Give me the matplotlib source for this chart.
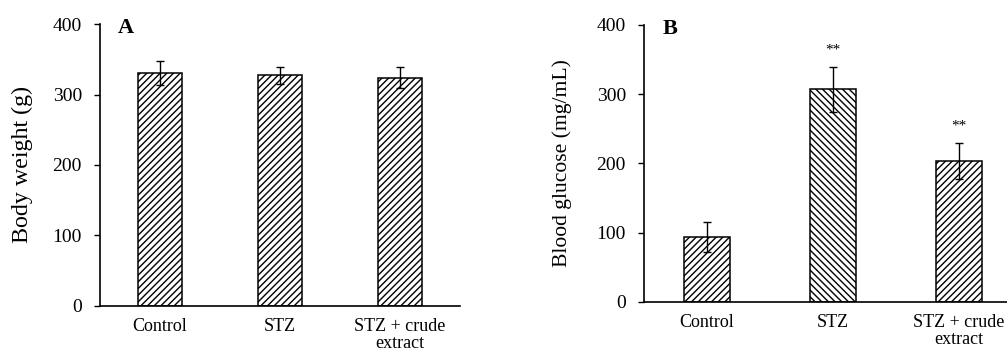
import numpy as np
import matplotlib
matplotlib.use('Agg')
import matplotlib.pyplot as plt

plt.rcParams['font.family'] = ['Liberation Serif', 'DejaVu Serif']
plt.rcParams['hatch.linewidth'] = 1.0

groups = ['Control', 'STZ', 'STZ + crude\nextract']

weight = [331, 327, 324]
weight_err = [17, 12, 15]

glucose = [94, 307, 203]
glucose_err = [22, 32, 26]
glucose_marks = ['', '**', '**']

hatches_a = ['/////', '/////', '/////']
hatches_b = ['/////', '\\\\\\\\\\', '/////']

fig = plt.figure(figsize=(10.07, 3.54), dpi=100)
ax_a = fig.add_axes([0.0993, 0.1356, 0.3575, 0.7966])
ax_b = fig.add_axes([0.6395, 0.1469, 0.3754, 0.7825])


def draw_panel(ax, vals, errs, hatches, ylabel, ysize, letter, label_x):
    x = np.arange(len(vals))
    for xi, v, h in zip(x, vals, hatches):
        ax.bar(xi, v, width=0.36, color='white', edgecolor='black',
               linewidth=1.1, hatch=h, zorder=2)
    ax.errorbar(x, vals, yerr=errs, fmt='none', ecolor='black',
                elinewidth=1.0, capsize=3, capthick=1.0, zorder=3)
    ax.set_xlim(-0.5, len(vals) - 0.5)
    ax.set_ylim(0, 400)
    ax.set_yticks([0, 100, 200, 300, 400])
    ax.set_xticks(x)
    ax.set_xticklabels(groups, fontsize=13, linespacing=1.0, va='top')
    ax.tick_params(axis='x', length=0, pad=9)
    ax.tick_params(axis='y', length=4, width=1, pad=9, labelsize=14)
    for s in ['top', 'right']:
        ax.spines[s].set_visible(False)
    ax.spines['left'].set_linewidth(1.2)
    ax.spines['bottom'].set_linewidth(1.2)
    ax.set_ylabel(ylabel, fontsize=ysize)
    ax.yaxis.set_label_coords(label_x, 0.5)
    ax.text(0.05, 0.985, letter, transform=ax.transAxes, fontsize=16,
            fontweight='bold', ha='left', va='center')


draw_panel(ax_a, weight, weight_err, hatches_a, 'Body weight (g)', 17.3, 'A', -0.186)
draw_panel(ax_b, glucose, glucose_err, hatches_b, 'Blood glucose (mg/mL)', 15.6, 'B', -0.19)

for xi, (v, e, m) in enumerate(zip(glucose, glucose_err, glucose_marks)):
    if m:
        ax_b.text(xi, v + e + 15, m, ha='center', va='bottom', fontsize=11)

fig.savefig('out.png', dpi=100)
